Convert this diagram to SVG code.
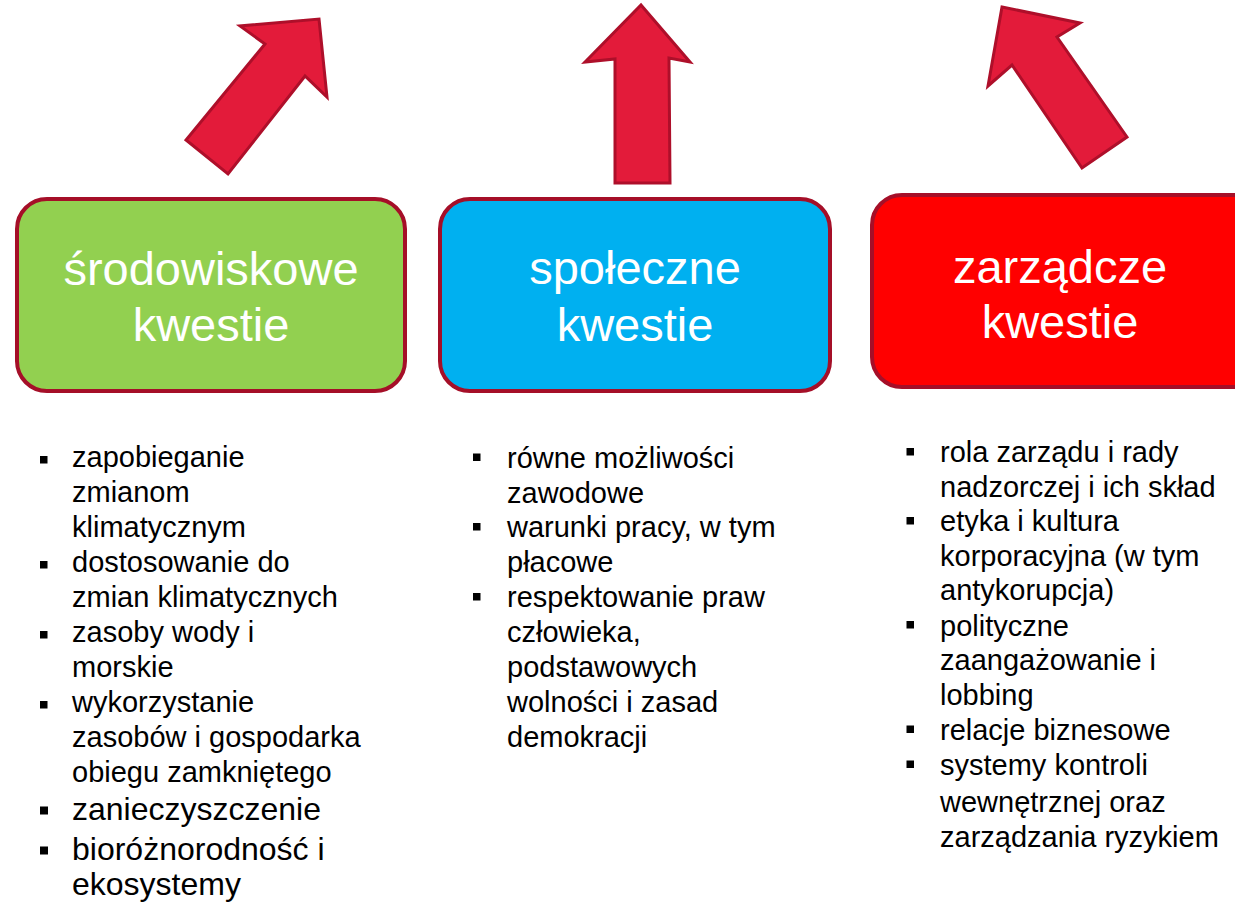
<svg xmlns="http://www.w3.org/2000/svg" width="1235" height="902" viewBox="0 0 1235 902">
<style>
.box{stroke:#A50F28;stroke-width:4}
.title{font-family:"Liberation Sans",Arial,sans-serif;font-size:47px;fill:#fff;text-anchor:middle}
.li{font-family:"Liberation Sans",Arial,sans-serif;font-size:29px;fill:#000}
.lb{font-size:32px}
.bul{fill:#000}
.arrow{fill:#E31B3A;stroke:#AE0F2A;stroke-width:3;stroke-linejoin:miter}
</style>
<rect width="1235" height="902" fill="#fff"/>
<g id="arrows">
<polygon class="arrow" points="319,19 327,97 305,76 228,174 186,140 265,44 240,26"/>
<polygon class="arrow" points="641,5 690,62 669,58 670,183 615,183 615,59 585,62"/>
<polygon class="arrow" points="1002,7 1080,23 1057,37 1127,137 1082,168 1012,65 988,86"/>
</g>
<g id="node-srodowiskowe">
<rect class="box" x="17" y="199" width="388" height="192" rx="30" fill="#92D050"/>
<text class="title" x="211" y="285">środowiskowe</text>
<text class="title" x="211" y="341">kwestie</text>
<rect class="bul" x="40" y="456" width="7.5" height="7.5"/>
<rect class="bul" x="40" y="561" width="7.5" height="7.5"/>
<rect class="bul" x="40" y="631" width="7.5" height="7.5"/>
<rect class="bul" x="40" y="701" width="7.5" height="7.5"/>
<rect class="bul" x="40" y="806.5" width="8" height="8"/>
<rect class="bul" x="40" y="846.5" width="8" height="8"/>
<text class="li" x="72" y="467">zapobieganie</text>
<text class="li" x="72" y="502">zmianom</text>
<text class="li" x="72" y="537">klimatycznym</text>
<text class="li" x="72" y="572">dostosowanie do</text>
<text class="li" x="72" y="607">zmian klimatycznych</text>
<text class="li" x="72" y="642">zasoby wody i</text>
<text class="li" x="72" y="677">morskie</text>
<text class="li" x="72" y="712">wykorzystanie</text>
<text class="li" x="72" y="747">zasobów i gospodarka</text>
<text class="li" x="72" y="782">obiegu zamkniętego</text>
<text class="li lb" x="72" y="820">zanieczyszczenie</text>
<text class="li lb" x="72" y="860">bioróżnorodność i</text>
<text class="li lb" x="72" y="895">ekosystemy</text>
</g>
<g id="node-spoleczne">
<rect class="box" x="440" y="199" width="390" height="192" rx="30" fill="#00B0F0"/>
<text class="title" x="635" y="284">społeczne</text>
<text class="title" x="635" y="341">kwestie</text>
<rect class="bul" x="473" y="453.5" width="7.5" height="7.5"/>
<rect class="bul" x="473" y="523" width="7.5" height="7.5"/>
<rect class="bul" x="473" y="593" width="7.5" height="7.5"/>
<text class="li" x="507" y="468">równe możliwości</text>
<text class="li" x="507" y="503">zawodowe</text>
<text class="li" x="507" y="537">warunki pracy, w tym</text>
<text class="li" x="507" y="572">płacowe</text>
<text class="li" x="507" y="607">respektowanie praw</text>
<text class="li" x="507" y="642">człowieka,</text>
<text class="li" x="507" y="677">podstawowych</text>
<text class="li" x="507" y="712">wolności i zasad</text>
<text class="li" x="507" y="747">demokracji</text>
</g>
<g id="node-zarzadcze">
<rect class="box" x="872" y="195" width="400" height="192" rx="30" fill="#FF0000"/>
<text class="title" x="1060" y="283">zarządcze</text>
<text class="title" x="1060" y="338">kwestie</text>
<rect class="bul" x="906.5" y="448" width="7.5" height="7.5"/>
<rect class="bul" x="906.5" y="517" width="7.5" height="7.5"/>
<rect class="bul" x="906.5" y="621" width="7.5" height="7.5"/>
<rect class="bul" x="906.5" y="725.5" width="7.5" height="7.5"/>
<rect class="bul" x="906.5" y="760.5" width="7.5" height="7.5"/>
<text class="li" x="940" y="462">rola zarządu i rady</text>
<text class="li" x="940" y="497">nadzorczej i ich skład</text>
<text class="li" x="940" y="531">etyka i kultura</text>
<text class="li" x="940" y="566">korporacyjna (w tym</text>
<text class="li" x="940" y="600">antykorupcja)</text>
<text class="li" x="940" y="636">polityczne</text>
<text class="li" x="940" y="670">zaangażowanie i</text>
<text class="li" x="940" y="705">lobbing</text>
<text class="li" x="940" y="740">relacje biznesowe</text>
<text class="li" x="940" y="775">systemy kontroli</text>
<text class="li" x="940" y="812">wewnętrznej oraz</text>
<text class="li" x="940" y="847">zarządzania ryzykiem</text>
</g>
</svg>
